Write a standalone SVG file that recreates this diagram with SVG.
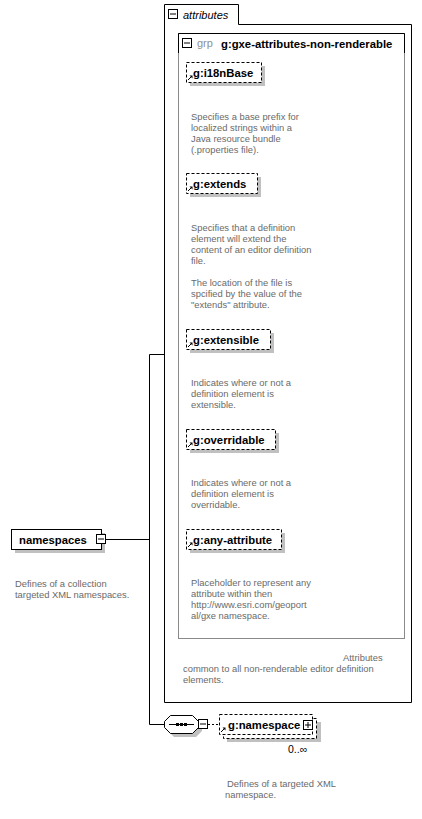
<svg xmlns="http://www.w3.org/2000/svg" width="422" height="819" viewBox="0 0 422 819">
<style>
.bg{fill:#fff}
.lbl{font-family:"Liberation Sans",Arial,sans-serif;font-size:11.3px;font-weight:bold;fill:#000}
.desc{font-family:"Liberation Sans",Arial,sans-serif;font-size:9.4px;fill:#6a6a6a}
.occ{font-family:"Liberation Sans",Arial,sans-serif;font-size:10.5px;fill:#000}
.ital{font-family:"Liberation Sans",Arial,sans-serif;font-size:11px;font-style:italic;fill:#000}
.grp{font-family:"Liberation Sans",Arial,sans-serif;font-size:11px;fill:#909090}
.shadow{fill:#c0c0c0}
.dash{fill:#fff;stroke:#000;stroke-width:1;stroke-dasharray:3,2}
.solid{fill:#fff;stroke:#000;stroke-width:1}
.line{fill:none;stroke:#000;stroke-width:1}
.gline{fill:none;stroke:#8a8a8a;stroke-width:1}
.icon{fill:#fff;stroke:#000;stroke-width:1}
</style>
<defs>
<g id="refarrow"><path d="M0,0 L4,-4" stroke="#000" stroke-width="1"/><path d="M1.5,-4.5 L4.5,-4.5 L4.5,-1.5 Z" fill="#000"/></g>
<g id="minus"><rect x="0.5" y="0.5" width="9" height="9" class="icon"/><path d="M2,5 H8" stroke="#000" stroke-width="1"/></g>
<g id="plus"><rect x="0.5" y="0.5" width="9" height="9" class="icon"/><path d="M2,5 H8 M5,2 V8" stroke="#000" stroke-width="1"/></g>
</defs>

<g id="connectors">
<path class="line" d="M105,539.5 H149.5 M149.5,354.5 V724.5 M149.5,354.5 H164.5 M149.5,724.5 H164.5"/>
<path d="M208,724.5 H219" stroke="#000" stroke-width="1" stroke-dasharray="2,2"/>
</g>

<g id="attributes">
<path class="line" d="M164.5,702.5 V4.5 H238.5 V24.5 H411.5 V702.5 Z"/>
<use href="#minus" x="168" y="9"/>
<text class="ital" x="183" y="19">attributes</text>
<text class="desc" x="343" y="661">Attributes</text>
<text class="desc" x="183" y="672">common to all non-renderable editor definition</text>
<text class="desc" x="183" y="683">elements.</text>
</g>

<g id="grp-gxe-attributes-non-renderable">
<rect x="178.5" y="33.5" width="226" height="605" class="gline"/>
<path class="line" d="M178.5,53 V33.5 H404.5 V53"/>
<use href="#minus" x="182" y="38"/>
<text class="grp" x="197" y="47">grp</text>
<text class="lbl" x="221" y="47.5">g:gxe-attributes-non-renderable</text>
</g>

<g id="i18nBase">
<rect x="190" y="66" width="75" height="20" class="shadow"/>
<rect x="186.5" y="62.5" width="75" height="20" class="dash"/>
<use href="#refarrow" x="188" y="80"/>
<text class="lbl" x="193" y="77">g:i18nBase</text>
<text class="desc" x="191" y="120">Specifies a base prefix for</text>
<text class="desc" x="191" y="131">localized strings within a</text>
<text class="desc" x="191" y="142">Java resource bundle</text>
<text class="desc" x="191" y="153">(.properties file).</text>
</g>

<g id="extends">
<rect x="190" y="177" width="71" height="20" class="shadow"/>
<rect x="186.5" y="173.5" width="71" height="20" class="dash"/>
<use href="#refarrow" x="188" y="191"/>
<text class="lbl" x="193" y="188">g:extends</text>
<text class="desc" x="191" y="231">Specifies that a definition</text>
<text class="desc" x="191" y="242">element will extend the</text>
<text class="desc" x="191" y="253">content of an editor definition</text>
<text class="desc" x="191" y="264">file.</text>
<text class="desc" x="191" y="286">The location of the file is</text>
<text class="desc" x="191" y="297">spcified by the value of the</text>
<text class="desc" x="191" y="308">"extends" attribute.</text>
</g>

<g id="extensible">
<rect x="190" y="333" width="84" height="20" class="shadow"/>
<rect x="186.5" y="329.5" width="84" height="20" class="dash"/>
<use href="#refarrow" x="188" y="347"/>
<text class="lbl" x="193" y="344">g:extensible</text>
<text class="desc" x="191" y="386">Indicates where or not a</text>
<text class="desc" x="191" y="397">definition element is</text>
<text class="desc" x="191" y="408">extensible.</text>
</g>

<g id="overridable">
<rect x="190" y="433" width="89" height="20" class="shadow"/>
<rect x="186.5" y="429.5" width="89" height="20" class="dash"/>
<use href="#refarrow" x="188" y="447"/>
<text class="lbl" x="193" y="444">g:overridable</text>
<text class="desc" x="191" y="486">Indicates where or not a</text>
<text class="desc" x="191" y="497">definition element is</text>
<text class="desc" x="191" y="508">overridable.</text>
</g>

<g id="any-attribute">
<rect x="190" y="533" width="95" height="20" class="shadow"/>
<rect x="186.5" y="529.5" width="95" height="20" class="dash"/>
<use href="#refarrow" x="188" y="547"/>
<text class="lbl" x="193" y="544">g:any-attribute</text>
<text class="desc" x="191" y="586">Placeholder to represent any</text>
<text class="desc" x="191" y="597">attribute within then</text>
<text class="desc" x="191" y="608">http://www.esri.com/geoport</text>
<text class="desc" x="191" y="619">al/gxe namespace.</text>
</g>

<g id="namespaces">
<rect x="15" y="533" width="90" height="20" class="shadow"/>
<rect x="11.5" y="529.5" width="90" height="20" class="solid"/>
<text class="lbl" x="19" y="544">namespaces</text>
<use href="#minus" x="96" y="534"/>
<text class="desc" x="15" y="587">Defines of a collection</text>
<text class="desc" x="15" y="598">targeted XML namespaces.</text>
</g>

<g id="sequence">
<polygon points="174,719 196,719 202,725 202,731 196,737 174,737 168,731 168,725" class="shadow"/>
<polygon points="170.5,715.5 192.5,715.5 198.5,721.5 198.5,727.5 192.5,733.5 170.5,733.5 164.5,727.5 164.5,721.5" class="solid"/>
<path d="M169,724.5 H194" stroke="#000" stroke-width="1"/>
<rect x="176" y="723" width="3" height="3" fill="#000"/>
<rect x="180" y="723" width="3" height="3" fill="#000"/>
<rect x="184" y="723" width="3" height="3" fill="#000"/>
<use href="#minus" x="198" y="719"/>
</g>

<g id="namespace">
<rect x="227" y="722" width="94" height="20" class="shadow"/>
<rect x="223.5" y="718.5" width="93" height="20" class="dash"/>
<rect x="219.5" y="714.5" width="93" height="20" class="dash"/>
<use href="#refarrow" x="221" y="732"/>
<text class="lbl" x="228" y="729">g:namespace</text>
<use href="#plus" x="303" y="720"/>
<text class="occ" x="288" y="753">0..∞</text>
<text class="desc" x="227" y="787">Defines of a targeted XML</text>
<text class="desc" x="225" y="798">namespace.</text>
</g>
</svg>
